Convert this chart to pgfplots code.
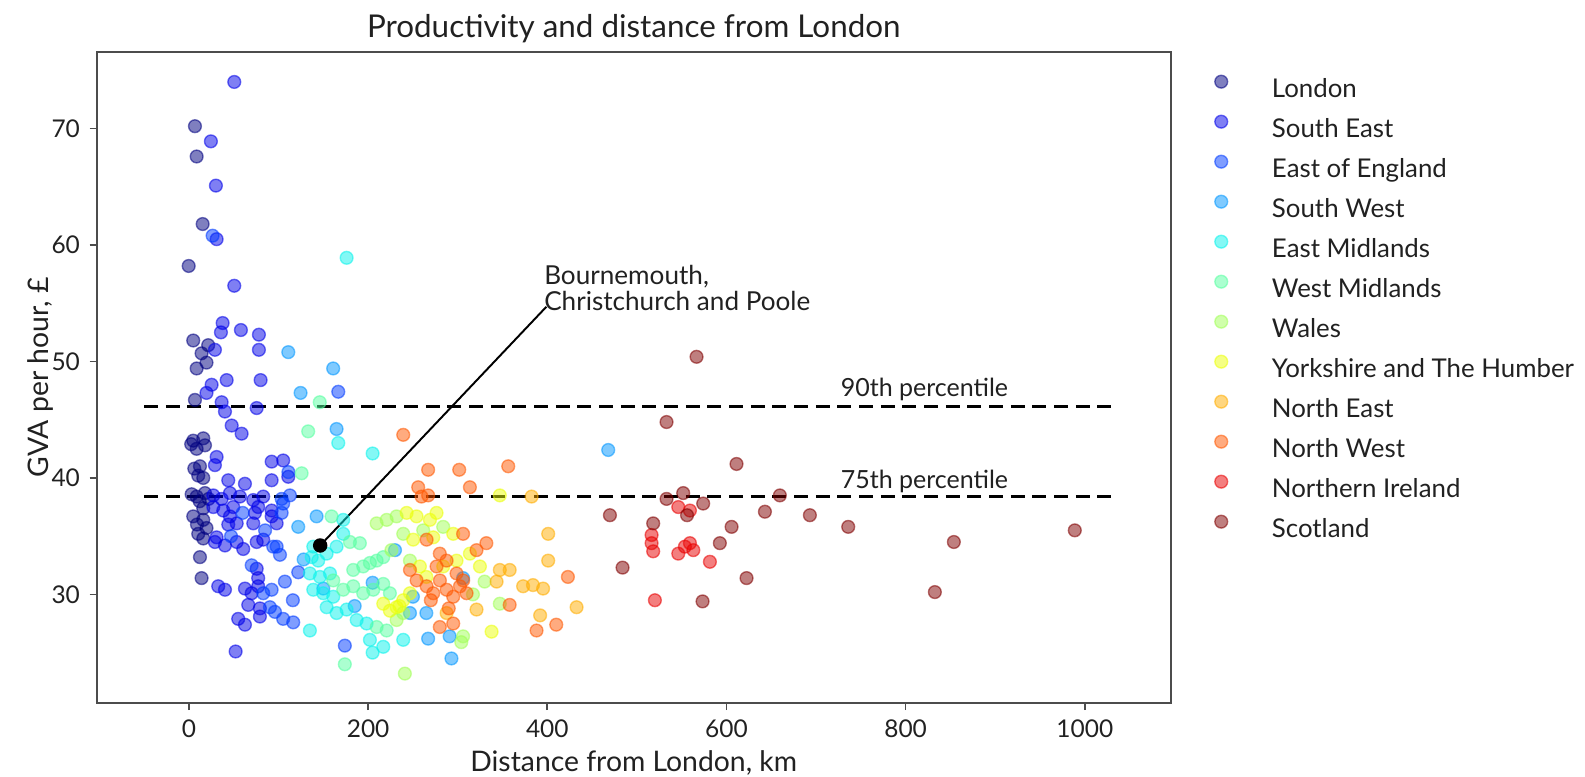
\documentclass[border=0pt]{standalone}
\usepackage{pgfplots}
\pgfplotsset{compat=1.18}
\usepackage{fontspec}
\setmainfont{Lato}
\definecolor{cLon}{rgb}{0,0,0.5}
\definecolor{cSE}{rgb}{0,0,0.91}
\definecolor{cEE}{rgb}{0,0.23,1}
\definecolor{cSW}{rgb}{0,0.59,1}
\definecolor{cEM}{rgb}{0.04,0.95,0.92}
\definecolor{cWM}{rgb}{0.34,1,0.63}
\definecolor{cWa}{rgb}{0.63,1,0.34}
\definecolor{cYH}{rgb}{0.92,1,0.04}
\definecolor{cNE}{rgb}{1,0.68,0}
\definecolor{cNW}{rgb}{1,0.34,0}
\definecolor{cNI}{rgb}{0.91,0,0}
\definecolor{cSc}{rgb}{0.5,0,0}
\definecolor{txt}{rgb}{0.13,0.13,0.13}
\pgfplotsset{
 reg/.style={only marks, mark=*, mark size=2.3pt, line width=0.5pt, color=#1,
   mark options={fill=#1, draw=#1, fill opacity=0.5, draw opacity=0.55}},
}
\begin{document}
\begin{tikzpicture}
\useasboundingbox (-34.8pt,-26.3pt) rectangle (535.8pt,253.1pt);
\begin{axis}[name=ax, at={(0,0)}, anchor=south west,
 scale only axis, width=386.7pt, height=234.5pt,
 xmin=-103, xmax=1096, ymin=20.67, ymax=76.6,
 xtick={0,200,...,1000}, ytick={30,40,...,70},
 tick align=outside, tick pos=left, major tick length=2.5pt,
 axis line style={black!70, line width=0.7pt},
 every tick/.style={black!70, line width=0.6pt},
 tick label style={font=\fontsize{8.8}{10}\selectfont, text=txt},
 /pgf/number format/assume math mode=true,
 /pgf/number format/set thousands separator={},
 xlabel={Distance from London, km}, ylabel={GVA per hour, £},
 label style={font=\fontsize{10.2}{12}\selectfont, text=txt},
 xlabel shift=-2.2pt, ylabel shift=-7.4pt,
 title={Productivity and distance from London},
 title style={font=\fontsize{11.3}{13}\selectfont, text=txt, yshift=-6.3pt},
 legend style={at={(1,1)}, anchor=north west, xshift=14.7pt, yshift=-8.3pt,
   draw=none, fill=none, font=\fontsize{9.3}{11}\selectfont, text=txt,
   row sep=4.4pt, column sep=15pt, inner sep=0pt,
   nodes={inner sep=0pt, text height=7pt, text depth=2pt}},
 legend cell align=left,
 legend image code/.code={\draw[#1] plot coordinates {(0pt,3.2pt)}; \path (-3pt,0pt) (3pt,0pt);},
]
% London
\addplot[reg=cLon] coordinates {(6.7,70.2) (8.6,67.6) (15.3,61.8) (-0.3,58.2) (4.8,51.8) (14.1,50.7) (8.6,49.4) (19.6,49.9) (6.7,46.7) (4.8,43.2) (16,43.4) (17.9,42.8) (8.6,42.5) (12.3,41.0) (10.4,40.2) (16,40.0) (8.6,38.4) (17.9,38.7) (16,37.4) (4.8,36.7) (16,36.4) (19.6,35.7) (10.4,35.2) (16,34.8) (12.3,33.2) (14.1,31.4) (21.5,51.4) (2.5,42.9) (6,40.8) (12,38.0) (22,38.2) (9,36.0) (3,38.6)};
% South East
\addplot[reg=cSE] coordinates {(50.6,74.0) (24.5,68.9) (30.1,65.1) (30.9,60.5) (50.6,56.5) (37.6,53.3) (35.7,52.5) (58,52.7) (78.1,52.3) (78.1,51.0) (29,51.0) (42.1,48.4) (80,48.4) (25.3,48.0) (19.6,47.3) (36.5,46.5) (40.2,45.7) (75.6,46.0) (47.7,44.5) (58.8,43.8) (30.9,41.8) (29,41.1) (92.3,41.4) (105.2,41.5) (110.9,40.1) (92.3,39.8) (43.9,39.8) (62.5,39.5) (27.2,38.5) (36.5,38.2) (45.8,38.7) (56.9,38.4) (71.8,38.1) (82.9,38.4) (49.4,37.5) (38.3,37.2) (27.2,37.5) (77.3,37.5) (92.3,37.2) (45.8,36.7) (43.9,36.0) (53.3,36.1) (71.8,36.1) (73.7,37.0) (92.3,36.7) (97.9,36.1) (29,34.5) (40.2,34.2) (53.3,34.5) (60.6,33.9) (75.6,34.5) (82.9,34.7) (32.7,30.7) (40.2,30.4) (62.5,30.5) (70,30.1) (77.3,30.7) (66.2,29.1) (79.2,28.8) (55,27.9) (62.5,27.4) (79.2,28.1) (52.1,25.1) (30.9,34.9) (75.6,32.2) (77.3,31.4)};
% East of England
\addplot[reg=cEE] coordinates {(26.4,60.8) (166.7,47.4) (103.5,38.2) (112.7,38.5) (105.2,37.8) (103.5,37.0) (94.1,34.1) (101.6,33.4) (97.9,34.1) (82.9,30.1) (92.3,30.4) (107.1,31.1) (90.4,28.9) (96,28.5) (105.2,27.9) (116.4,27.6) (174,25.6) (122,31.9) (111,40.5) (60,37.0) (85,35.5) (70,32.5) (47,35.0) (116,29.5)};
% South West
\addplot[reg=cSW] coordinates {(110.9,50.8) (161,49.4) (124.6,47.3) (164.8,44.2) (122,35.8) (142.5,36.7) (230,33.8) (265,28.4) (293,24.5) (267,26.2) (291,26.4) (306,31.4) (468,42.4) (246.7,28.4) (128,33.0) (150,30.5) (185,29.0) (205,31.0) (250,29.8)};
% East Midlands
\addplot[reg=cEM] coordinates {(176,58.9) (205,42.1) (166.7,43.0) (138.8,34.1) (137,33.2) (144.3,32.9) (153.7,33.5) (164.8,34.1) (172.2,35.2) (135,26.9) (146.2,31.5) (157.4,31.8) (161.1,29.8) (153.7,28.9) (164.8,28.4) (176,28.7) (187.2,27.8) (198.3,27.5) (202,26.1) (216.9,25.5) (172.2,36.4) (135,31.8) (149.9,30.1) (138.8,30.4) (239.2,26.1) (205,25.0)};
% West Midlands
\addplot[reg=cWM] coordinates {(146,46.5) (133.1,44.0) (125.8,40.4) (174,24.0) (179.7,34.5) (190.8,34.4) (183.4,32.1) (194.5,32.4) (202,32.7) (209.5,32.9) (216.9,33.2) (172.2,30.4) (183.4,30.7) (194.5,30.1) (205.7,30.4) (216.9,30.9) (209.5,27.2) (220.7,26.9) (159.2,36.7) (161.1,31.2) (224.3,30.1)};
% Wales
\addplot[reg=cWa] coordinates {(241,23.2) (209.5,36.1) (220.7,36.4) (231.8,36.7) (239.2,35.2) (261.5,35.5) (306,26.4) (347,29.2) (330,31.1) (304,25.9) (283.8,35.8) (246.7,32.9) (231.8,27.8) (239.2,28.4) (226,33.8) (317,30.0)};
% Yorkshire
\addplot[reg=cYH] coordinates {(243,37.0) (254.1,36.7) (269,36.4) (276.4,37.0) (250.3,34.7) (272.7,34.9) (295,35.2) (216.9,29.2) (224.3,28.6) (231.8,28.9) (239.2,29.5) (246.7,30.1) (257.8,32.4) (283.8,32.4) (298.7,32.9) (313.6,33.5) (337.8,26.8) (347,38.5) (324.8,32.4) (265,31.5) (235,29.0)};
% North East
\addplot[reg=cNE] coordinates {(382.5,38.4) (401,35.2) (401,32.9) (432.7,28.9) (392,28.2) (347,32.1) (358,32.1) (343.4,31.1) (373,30.7) (384,30.8) (395.3,30.5) (321,28.7) (287.6,28.4)};
% North West
\addplot[reg=cNW] coordinates {(239.2,43.7) (267,40.7) (301.7,40.7) (356.4,41.0) (255.9,39.2) (259.6,38.4) (267,38.5) (313.6,39.2) (306,35.2) (265.3,34.7) (321,33.8) (332,34.4) (280,33.5) (246.7,32.1) (254.1,31.2) (265.3,30.7) (272.7,30.1) (280.1,31.2) (287.6,30.4) (295,29.8) (302.5,30.7) (309.9,30.1) (276.4,32.4) (287.6,32.9) (298.7,31.8) (306.1,31.2) (423,31.5) (388,26.9) (410,27.4) (358,29.1) (295,27.5) (280,27.2) (270,29.5) (290,28.8)};
% Northern Ireland
\addplot[reg=cNI] coordinates {(516.4,35.1) (516.4,34.4) (518.2,33.7) (546.2,33.5) (553.6,34.1) (563,33.8) (559.2,34.4) (546.2,37.5) (559.2,37.2) (520.1,29.5) (581.5,32.8)};
% Scotland
\addplot[reg=cSc] coordinates {(566.6,50.4) (533.1,44.8) (469.9,36.8) (533.1,38.2) (551.7,38.7) (574,37.8) (518.2,36.1) (592.6,34.4) (484,32.3) (573.3,29.4) (611.2,41.2) (605.7,35.8) (642.9,37.1) (659.6,38.5) (693.1,36.8) (735.9,35.8) (622.4,31.4) (853.8,34.5) (832.6,30.2) (988.8,35.5) (556,36.8)};
\legend{London,South East,East of England,South West,East Midlands,West Midlands,Wales,Yorkshire and The Humber,North East,North West,Northern Ireland,Scotland}
% percentile lines
\addplot[forget plot, black, line width=1.1pt, dash pattern=on 5pt off 2.8pt] coordinates {(-50,46.1) (1031,46.1)};
\addplot[forget plot, black, line width=1.1pt, dash pattern=on 5pt off 2.8pt] coordinates {(-50,38.4) (1031,38.4)};
% annotation
\addplot[forget plot, black, line width=0.7pt] coordinates {(146.5,34.2) (399,54.7)};
\addplot[forget plot, only marks, mark=*, mark size=2.4pt, black] coordinates {(146.5,34.2)};
\node[anchor=base west, font=\fontsize{9}{11}\selectfont, text=txt, inner sep=0pt] at (axis cs:727,46.96) {90th percentile};
\node[anchor=base west, font=\fontsize{9}{11}\selectfont, text=txt, inner sep=0pt] at (axis cs:727,39.1) {75th percentile};
\node[anchor=base west, font=\fontsize{9.4}{11}\selectfont, text=txt, inner sep=0pt] at (axis cs:396,56.6) {Bournemouth,};
\node[anchor=base west, font=\fontsize{9.4}{11}\selectfont, text=txt, inner sep=0pt] at (axis cs:396,54.4) {Christchurch and Poole};
\end{axis}
\end{tikzpicture}
\end{document}
